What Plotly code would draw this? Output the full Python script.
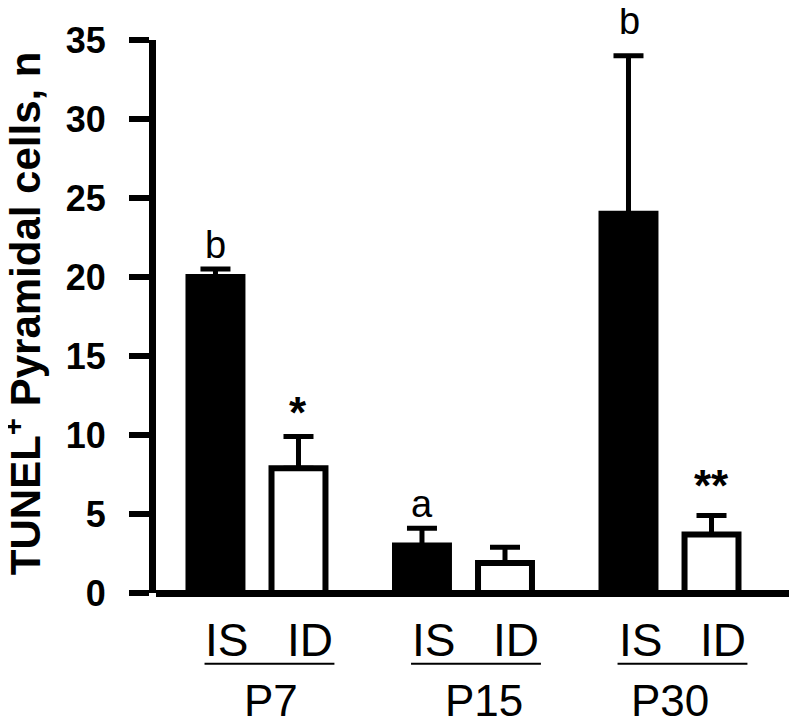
import plotly.graph_objects as go

# values
ages = ["P7", "P15", "P30"]
is_mean = [20.0, 3.0, 24.0]
is_err = [0.5, 1.1, 10.0]
id_mean = [7.9, 1.9, 3.7]
id_err = [2.0, 1.0, 1.2]
is_marks = ["b", "a", "b"]
id_marks = ["*", "", "**"]
group_labels = ["IS", "ID"]

font = "Liberation Sans, Arial, sans-serif"

fig = go.Figure()
fig.add_trace(go.Bar(
    x=ages, y=is_mean, name="IS",
    marker=dict(color="black", line=dict(color="black", width=6)),
    error_y=dict(type="data", symmetric=False, array=is_err, arrayminus=[0] * 3,
                 color="black", thickness=5, width=15),
))
fig.add_trace(go.Bar(
    x=ages, y=id_mean, name="ID",
    marker=dict(color="white", line=dict(color="black", width=6)),
    error_y=dict(type="data", symmetric=False, array=id_err, arrayminus=[0] * 3,
                 color="black", thickness=5, width=15),
))

# letters / stars over the bars
letter_shift = [1, 1, 12]
star_shift = [-2, 0, 4]
for i, a in enumerate(ages):
    fig.add_annotation(x=a, y=is_mean[i] + is_err[i], text=is_marks[i], showarrow=False,
                       xshift=-41, yanchor="bottom", yshift=letter_shift[i],
                       font=dict(family=font, size=38, color="black"))
    if id_marks[i]:
        fig.add_annotation(x=a, y=id_mean[i] + id_err[i], text="<b>" + id_marks[i] + "</b>",
                           showarrow=False, xshift=41, yanchor="bottom", yshift=star_shift[i],
                           font=dict(family=font, size=44, color="black"))

# group labels under the axis
p_shift = [14, 21, 0]
for i, a in enumerate(ages):
    fig.add_annotation(x=a, y=-0.085, yref="paper", text=group_labels[0], showarrow=False,
                       xshift=-30, yanchor="middle", font=dict(family=font, size=46, color="black"))
    fig.add_annotation(x=a, y=-0.085, yref="paper", text=group_labels[1], showarrow=False,
                       xshift=53, yanchor="middle", font=dict(family=font, size=46, color="black"))
    fig.add_annotation(x=a, y=-0.195, yref="paper", text=a, showarrow=False,
                       xshift=p_shift[i], yanchor="middle", font=dict(family=font, size=44, color="black"))
    fig.add_shape(type="line", xref="x", yref="paper", x0=i - 0.254, x1=i + 0.375,
                  y0=-0.128, y1=-0.128, line=dict(color="black", width=2))

fig.add_annotation(xref="paper", yref="paper", x=-0.2075, y=0.506, textangle=-90,
                   text="<b>TUNEL<sup>+</sup> Pyramidal cells, n</b>", showarrow=False,
                   xanchor="center", yanchor="middle",
                   font=dict(family=font, size=42, color="black"))

# page body has an 8px margin, so the figure is 8px smaller than the window
fig.update_layout(
    width=789, height=717,
    margin=dict(l=148, r=0, t=32, b=132),
    plot_bgcolor="white", paper_bgcolor="white",
    barmode="group", bargap=0.196, bargroupgap=0.35,
    showlegend=False,
    font=dict(family=font, color="black"),
)
fig.update_xaxes(type="category", range=[-0.489, 2.615], showticklabels=False,
                 ticks="", showline=False, showgrid=False, zeroline=False)
fig.update_yaxes(range=[0, 35], dtick=5, showgrid=False, zeroline=True,
                 zerolinecolor="black", zerolinewidth=7,
                 showline=True, linecolor="black", linewidth=7,
                 ticks="outside", ticklen=20, tickwidth=6, tickcolor="black",
                 ticklabelstandoff=16,
                 tickfont=dict(family=font, size=36, color="black", weight="bold"))

fig.write_html("out.html")
